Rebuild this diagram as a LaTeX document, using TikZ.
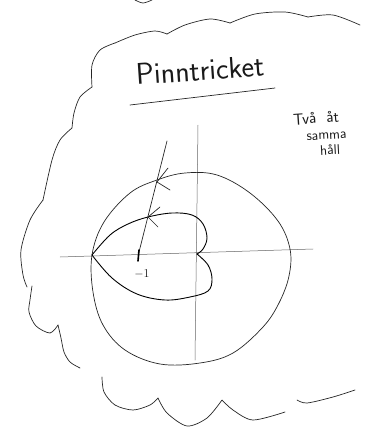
\documentclass[tikz,border=0pt]{standalone}
\usepackage{tikz}
\usetikzlibrary{positioning}

\begin{document}
\begin{tikzpicture}[
    x=1pt, y=-1pt,
    font=\sffamily,
    pen/.style     ={line width=0.7pt, black!85, line cap=round, line join=round},
    axis/.style    ={line width=0.5pt, black!60, line cap=round},
    bold pen/.style={line width=0.9pt, black, line cap=round, line join=round},
    hand/.style    ={inner sep=0pt, text=black!90},
]
\useasboundingbox (0,0) rectangle (382,440);

% ---- Cloud ----
\draw[pen] plot[smooth] coordinates {(135,0) (143,3) (152,0)};
\draw[pen] plot[smooth] coordinates {(115,43) (135,35) (155,31) (167,34)};
\draw[pen] plot[smooth] coordinates {(167,34) (185,25) (210,19) (230,23)};
\draw[pen] plot[smooth] coordinates {(230,23) (255,14) (285,12) (308,17)};
\draw[pen] plot[smooth] coordinates {(308,17) (333,15) (360,25)};
\draw[pen] plot[smooth] coordinates {(115,43) (100,50) (92,65) (92,87)};
\draw[pen] plot[smooth] coordinates {(92,87) (80,97) (74,113) (72,128)};
\draw[pen] plot[smooth] coordinates {(72,128) (60,140) (52,160) (43,200)};
\draw[pen] plot[smooth] coordinates {(43,200) (30,220) (21,250) (23,275) (27,287)};
\draw[pen] plot[smooth] coordinates {(32,286) (30,300) (29,312) (36,326) (50,333) (58,325)};
\draw[pen] plot[smooth] coordinates {(58,325) (61,338) (64,352) (70,362) (80,368)};
\draw[pen] plot[smooth] coordinates {(102,377) (104,392) (115,405) (133,410) (150,405) (158,398)};
\draw[pen] plot[smooth] coordinates {(158,398) (167,413) (187,426) (207,418) (222,400)};
\draw[pen] plot[smooth] coordinates {(222,400) (233,410) (253,420) (285,412)};
\draw[pen] plot[smooth] coordinates {(297,400) (307,403) (333,397) (355,390)};

% ---- Title ----
\node[hand, font=\sffamily\fontsize{30}{32}\selectfont, rotate=4] (title) at (200,70) {Pinntricket};
\coordinate (ul1) at (130,105);
\coordinate (ul2) at (275,88);
\draw[pen] (ul1) -- (ul2);

% ---- Note ----
\node[hand, font=\sffamily\fontsize{16}{18}\selectfont, rotate=4] (two) at (316,118) {Två\ \ åt};
\node[hand, font=\sffamily\fontsize{14}{16}\selectfont, below=9pt of two, xshift=10pt, rotate=3] (same) {samma};
\node[hand, font=\sffamily\fontsize{14}{16}\selectfont, below=5pt of same, xshift=3pt, rotate=3] (way) {håll};

% ---- Axes ----
\coordinate (xl) at (60,257);
\coordinate (xr) at (313,249);
\coordinate (yt) at (198,125);
\coordinate (yb) at (195,360);
\draw[axis] (xl) -- (xr);
\draw[axis] (yt) -- (yb);

% ---- Circle ----
\draw[pen] plot[smooth cycle, tension=0.6] coordinates {
   (92,255) (104,222) (130,193) (157,180) (185,173) (217,175) (250,193) (278,221)
   (290,249) (289,276) (279,303) (263,327) (233,353) (200,363) (160,364) (125,350)
   (103,325) (93,292)};

% ---- Nyquist curve ----
\coordinate (m1) at (92,255);
\coordinate (o)  at (197,254);
\draw[bold pen] plot[smooth, tension=0.6] coordinates {
   (m1) (110,235) (128,224) (148,217) (172,213) (192,215) (203,224) (207,238) (203,249) (o)};
\draw[bold pen] plot[smooth, tension=0.6] coordinates {
   (o) (208,265) (212,279) (208,291) (190,297) (165,300) (137,294) (112,278) (m1)};

% ---- Point -1 and ray ----
\coordinate (p1)  at (139,252);
\coordinate (top) at (167,141);
\draw[pen] (p1) -- (top);
\draw[line width=1.6pt, line cap=round] (139,250) -- (138,261);
\node[hand, font=\sffamily\fontsize{12}{14}\selectfont] (lbl) at (142,274) {$-1$};

% ---- Direction marks ----
\coordinate (a1) at (148,217);
\coordinate (a2) at (157,182);
\draw[pen] (a1) -- +(12,-10);
\draw[pen] (a1) -- +(10,10);
\draw[pen] (a2) -- +(11,-14);
\draw[pen] (a2) -- +(13,8);

\end{tikzpicture}
\end{document}
